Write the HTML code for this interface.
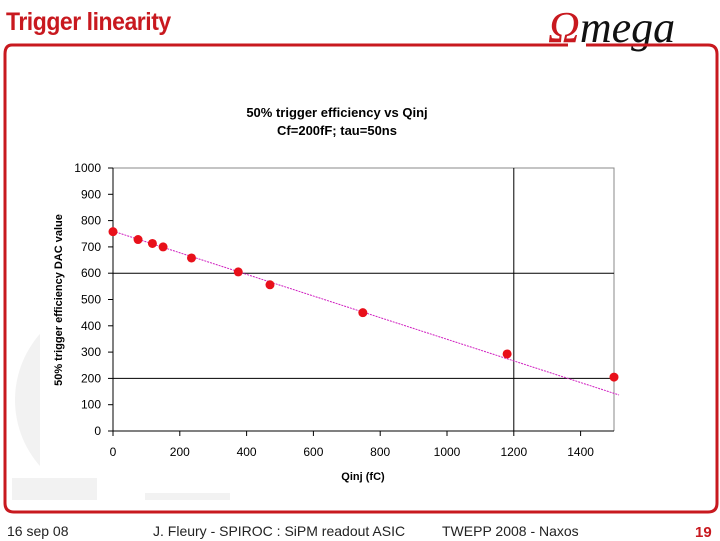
<!DOCTYPE html>
<html><head><meta charset="utf-8"><style>
body{margin:0;width:720px;height:540px;background:#fff;position:relative;overflow:hidden;font-family:"Liberation Sans",sans-serif}
.t{position:absolute;white-space:nowrap}
</style></head><body>
<div class="t" style="left:6px;top:8px;font-size:25px;font-weight:bold;color:#c8191f;letter-spacing:-0.5px;transform:scaleX(0.92);transform-origin:left">Trigger linearity</div>
<div class="t" style="left:548px;top:4px;font-family:'Liberation Serif',serif;font-style:italic;font-size:44px;line-height:48px"><span style="color:#c8191f">Ω</span><span style="color:#111">mega</span></div>
<svg width="720" height="540" style="position:absolute;left:0;top:0">
<circle cx="115" cy="400" r="100" fill="#f2f2f2"/>
<rect x="40" y="300" width="220" height="200" fill="#fff"/>
<rect x="12" y="478" width="85" height="22" fill="#f2f2f2"/>
<rect x="145" y="493" width="85" height="7" fill="#f2f2f2"/>
<path d="M12 45 H568 M586 45 H708 Q717 45 717 54 V503 Q717 512 708 512 H14 Q5 512 5 503 V54 Q5 45 12 45" fill="none" stroke="#c8191f" stroke-width="3"/>
</svg>
<svg id="chart" width="720" height="540" style="position:absolute;left:0;top:0"></svg>
<div class="t" style="left:7px;top:523px;font-size:14px;color:#222">16 sep 08</div>
<div class="t" style="left:153px;top:523px;font-size:14px;color:#222">J. Fleury - SPIROC : SiPM readout ASIC</div>
<div class="t" style="left:442px;top:523px;font-size:14px;color:#222">TWEPP 2008 - Naxos</div>
<div class="t" style="left:695px;top:524px;font-size:15px;font-weight:bold;color:#c8191f">19</div>
<script>
const xVals=[0,75,118,150,235,375,470,748,1180,1500];
const yVals=[758,728,713,700,658,605,556,450,293,205];
const xTicks=[0,200,400,600,800,1000,1200,1400];
const yTicks=[0,100,200,300,400,500,600,700,800,900,1000];
const trendStart=[0,760];
const trendEnd=[1515,137];
const gridY=[200,600];
const gridX=[1200];
const NS="http://www.w3.org/2000/svg";
const svg=document.getElementById('chart');
const L=113,R=614,T=168,B=431;
const sx=v=>L+(v/1500)*(R-L), sy=v=>B-(v/1000)*(B-T);
function mk(tag,at,txt){const e=document.createElementNS(NS,tag);for(const k in at)e.setAttribute(k,at[k]);if(txt!=null)e.textContent=txt;svg.appendChild(e);return e;}
let e;
e=mk('text',{x:337,y:117,'text-anchor':'middle','font-size':13,'font-weight':'bold','font-family':'Liberation Sans'},'50% trigger efficiency vs Qinj');


e=mk('text',{x:337,y:135,'text-anchor':'middle','font-size':13,'font-weight':'bold','font-family':'Liberation Sans'},'Cf=200fF; tau=50ns');


e=mk('path',{d:`M${L} ${T} H${R} V${B}`,fill:'none',stroke:'#888'});


gridY.forEach(v=>{e=mk('line',{x1:L,x2:R,y1:sy(v),y2:sy(v),stroke:'#000'});

});
gridX.forEach(v=>{e=mk('line',{x1:sx(v),x2:sx(v),y1:T,y2:B,stroke:'#000'});

});
e=mk('line',{x1:L,x2:L,y1:T,y2:B,stroke:'#000'});


e=mk('line',{x1:L,x2:R,y1:B,y2:B,stroke:'#000'});


yTicks.forEach(v=>{mk('line',{x1:L-5,x2:L,y1:sy(v),y2:sy(v),stroke:'#000'});
e=mk('text',{x:L-12,y:sy(v)+4,'text-anchor':'end','font-size':12,'font-family':'Liberation Sans'},v);

});
xTicks.forEach(v=>{mk('line',{x1:sx(v),x2:sx(v),y1:B,y2:B+5,stroke:'#000'});
e=mk('text',{x:sx(v),y:B+25,'text-anchor':'middle','font-size':12,'font-family':'Liberation Sans'},v);

});
e=mk('text',{x:363,y:480,'text-anchor':'middle','font-size':11,'font-weight':'bold','font-family':'Liberation Sans'},'Qinj (fC)');


e=mk('text',{x:0,y:0,'text-anchor':'middle','font-size':11,'font-weight':'bold','font-family':'Liberation Sans',transform:`translate(62,300) rotate(-90)`},'50% trigger efficiency DAC value');


e=mk('line',{x1:sx(trendStart[0]),y1:sy(trendStart[1]),x2:sx(trendEnd[0]),y2:sy(trendEnd[1]),stroke:'#d020c0','stroke-width':1,'stroke-dasharray':'2,1'});


xVals.forEach((x,i)=>{e=mk('circle',{cx:sx(x),cy:sy(yVals[i]),r:4.5,fill:'#e8101a'});

});
</script>
</body></html>
